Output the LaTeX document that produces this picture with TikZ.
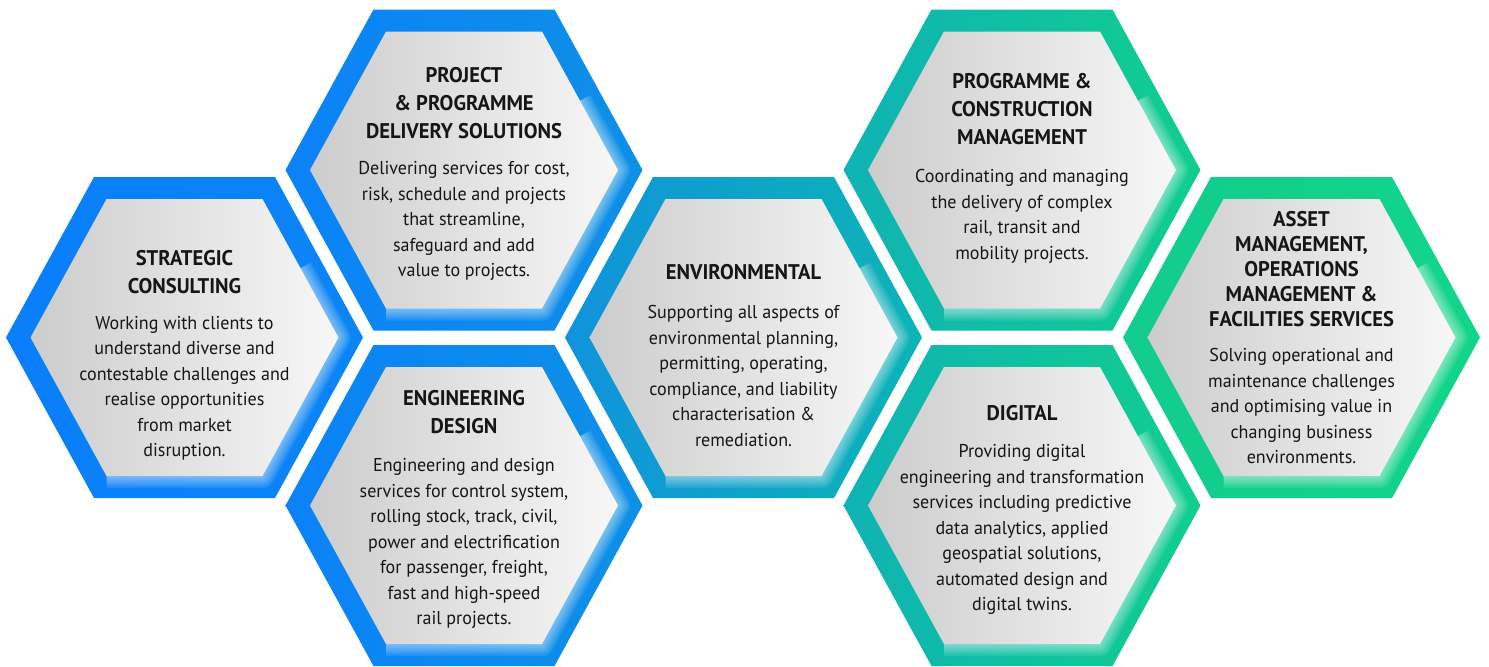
\documentclass[tikz,border=0pt]{standalone}
\usepackage{xcolor}
\usepackage{fontspec}
\setmainfont[FakeStretch=0.97]{PT Sans}
\usetikzlibrary{calc}

% ring colours, blue on the left to green on the right
\definecolor{ringA}{HTML}{0A7EFB}
\definecolor{ringB}{HTML}{0B85F4}
\definecolor{ringC}{HTML}{0B82F8}
\definecolor{ringD}{HTML}{0E90E6}
\definecolor{ringE}{HTML}{1093DC}
\definecolor{ringF}{HTML}{0CB4B6}
\definecolor{ringG}{HTML}{0FB3B5}
\definecolor{ringH}{HTML}{11CE8E}
\definecolor{ringI}{HTML}{12CC8E}
\definecolor{ringJ}{HTML}{12D58A}
\definecolor{ink}{HTML}{161616}

\tikzset{
  celltitle/.style={font=\bfseries\fontsize{10.6}{14}\selectfont, text=ink, align=center, inner sep=0pt},
  celltext/.style={font=\fontsize{9.3}{12.75}\selectfont, text=ink, align=center, inner sep=0pt},
  glow/.style={draw=white, line join=round, line cap=butt},
}

\begin{document}
\begin{tikzpicture}[x=0.5pt, y=-0.5pt, declare function={ra=178.5; rb=90.5; rh=160.5; ia=154; ib=78; ih=138.5;}]
  \useasboundingbox[fill=white] (0,0) rectangle (1489,666);
  % hexagons: centre x / centre y / left colour / right colour
  \foreach \cx/\cy/\cl/\cr in {184.5/337.5/ringA/ringB, 464/170/ringC/ringD, 464/505.5/ringC/ringD, 743.5/337.5/ringE/ringF, 1022/170/ringG/ringH, 1022/505.5/ringG/ringH, 1301.5/337.5/ringI/ringJ}
  {
    \shade[left color=\cl, right color=\cr] (\cx-ra,\cy) -- (\cx-rb,\cy-rh) -- (\cx+rb,\cy-rh) -- (\cx+ra,\cy) -- (\cx+rb,\cy+rh) -- (\cx-rb,\cy+rh) -- cycle;
    \foreach \w in {12,10,8,6,4,2}
      \draw[glow, line width=\w pt, opacity=.09] (\cx+ib/2+ia/2,\cy-ih/2) -- (\cx+ia,\cy) -- (\cx+ib,\cy+ih) -- (\cx-ib,\cy+ih);
    \shade[left color=gray!40, right color=white!97!black] (\cx-ia,\cy) -- (\cx-ib,\cy-ih) -- (\cx+ib,\cy-ih) -- (\cx+ia,\cy) -- (\cx+ib,\cy+ih) -- (\cx-ib,\cy+ih) -- cycle;
  }

  \node[celltitle] (strat-title) at (184.5,272) {STRATEGIC\\CONSULTING};
  \node[celltext] (strat-text) at (184.5,388.5) {Working with clients to\\understand diverse and\\contestable challenges and\\realise opportunities\\from market\\disruption.};

  \node[celltitle] (ppds-title) at (464,103) {PROJECT\\\& PROGRAMME\\DELIVERY SOLUTIONS};
  \node[celltext] (ppds-text) at (464,221) {Delivering services for cost,\\risk, schedule and projects\\that streamline,\\safeguard and add\\value to projects.};

  \node[celltitle] (eng-title) at (464,412.5) {ENGINEERING\\DESIGN};
  \node[celltext] (eng-text) at (464,543.5) {Engineering and design\\services for control system,\\rolling stock, track, civil,\\power and electrification\\for passenger, freight,\\fast and high-speed\\rail projects.};

  \node[celltitle] (env-title) at (743.5,272) {ENVIRONMENTAL};
  \node[celltext] (env-text) at (743.5,376) {Supporting all aspects of\\environmental planning,\\permitting, operating,\\compliance, and liability\\characterisation \&\\remediation.};

  \node[celltitle] (pcm-title) at (1022,109.5) {PROGRAMME \&\\CONSTRUCTION\\MANAGEMENT};
  \node[celltext] (pcm-text) at (1022,216.5) {Coordinating and managing\\the delivery of complex\\rail, transit and\\mobility projects.};

  \node[celltitle] (dig-title) at (1022,413) {DIGITAL};
  \node[celltext] (dig-text) at (1022,529.5) {Providing digital\\engineering and transformation\\services including predictive\\data analytics, applied\\geospatial solutions,\\automated design and\\digital twins.};

  \node[celltitle, font=\bfseries\fontsize{10.6}{12.5}\selectfont] (asset-title) at (1301.5,269) {ASSET\\MANAGEMENT,\\OPERATIONS\\MANAGEMENT \&\\FACILITIES SERVICES};
  \node[celltext] (asset-text) at (1301.5,406) {Solving operational and\\maintenance challenges\\and optimising value in\\changing business\\environments.};
\end{tikzpicture}
\end{document}
